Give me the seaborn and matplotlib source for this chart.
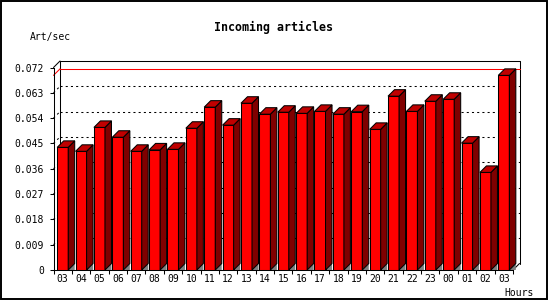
import numpy as np
import pandas as pd
import matplotlib
matplotlib.use("Agg")
import matplotlib.pyplot as plt
import seaborn as sns
from matplotlib.patches import Polygon, Rectangle

# ---- data ----
hours = ["03", "04", "05", "06", "07", "08", "09", "10", "11", "12", "13", "14",
         "15", "16", "17", "18", "19", "20", "21", "22", "23", "00", "01", "02", "03"]
rates = [0.0436, 0.0422, 0.0507, 0.0472, 0.0422, 0.0427, 0.0429, 0.0504, 0.0579,
         0.0515, 0.0593, 0.0554, 0.0561, 0.0557, 0.0564, 0.0554, 0.0563, 0.0500,
         0.0618, 0.0564, 0.0600, 0.0607, 0.0451, 0.0347, 0.0692]
y_ticks = [0, 0.009, 0.018, 0.027, 0.036, 0.045, 0.054, 0.063, 0.072]
y_tick_labels = ["0", "0.009", "0.018", "0.027", "0.036", "0.045", "0.054", "0.063", "0.072"]
title = "Incoming articles"
y_unit = "Art/sec"
x_unit = "Hours"

FRONT = "#ff0000"
SIDE = "#800000"
TOP = "#c00000"
FLOOR = "#808080"
LW = 0.75

sns.set_style("white")
plt.rcParams["font.family"] = ["DejaVu Sans Mono"]
plt.rcParams["text.color"] = "black"
plt.rcParams["axes.labelcolor"] = "black"

W, H = 550, 300
fig = plt.figure(figsize=(W / 100, H / 100), dpi=100)
ax_left, ax_right, ax_bottom, ax_top = 53.5, 513, 270, 67.5
ax = fig.add_axes([ax_left / W, (H - ax_bottom) / H,
                   (ax_right - ax_left) / W, (ax_bottom - ax_top) / H])

df = pd.DataFrame({"slot": range(len(rates)), "rate": rates})
sns.barplot(data=df, x="slot", y="rate", color=FRONT, saturation=1, width=0.6,
            edgecolor="black", linewidth=LW, ax=ax, zorder=3)

n = len(rates)
ymax = y_ticks[-1]
ax.set_xlim(-0.5, n - 0.5)
ax.set_ylim(0, ymax)

# 3D depth in data units
px_per_x = (ax_right - ax_left) / n
px_per_y = (ax_bottom - ax_top) / ymax
DX = 6.5 / px_per_x
DY = 6.5 / px_per_y

bars = list(ax.patches)
for p in bars:
    x0 = p.get_x()
    x1 = x0 + p.get_width()
    h = p.get_height()
    ax.add_patch(Polygon([(x1, 0), (x1 + DX, DY), (x1 + DX, 0)], closed=True,
                         fc=FLOOR, lw=0, zorder=2.5, clip_on=False))
    ax.add_patch(Polygon([(x1, 0), (x1 + DX, DY), (x1 + DX, h + DY), (x1, h)], closed=True,
                         fc=SIDE, ec="black", lw=LW, zorder=3, clip_on=False))
    ax.add_patch(Polygon([(x0, h), (x0 + DX, h + DY), (x1 + DX, h + DY), (x1, h)], closed=True,
                         fc=TOP, ec="black", lw=LW, zorder=3, clip_on=False))

xl, xr = -0.5, n - 0.5
# back wall dotted grid lines and connectors
for v in y_ticks[1:-1]:
    ax.plot([xl + DX, xr + DX], [v + DY, v + DY], color="black", lw=LW,
            ls=(0, (2, 3)), zorder=1, clip_on=False)
    ax.plot([xl, xl + DX], [v, v + DY], color="black", lw=LW,
            ls=(0, (2, 3)), zorder=1, clip_on=False)

# back wall frame
ax.plot([xl + DX, xl + DX, xr + DX, xr + DX], [DY, ymax + DY, ymax + DY, DY],
        color="black", lw=LW, zorder=1.5, clip_on=False)
ax.plot([xl, xl + DX], [ymax, ymax + DY], color="black", lw=LW, zorder=1.5, clip_on=False)
ax.plot([xr, xr + DX], [0, DY], color="black", lw=LW, zorder=1.5, clip_on=False)

# maximum line
vmax = max(rates)
ax.plot([xl + DX, xr + DX], [vmax + DY, vmax + DY], color="red", lw=LW, zorder=1.6, clip_on=False)
ax.plot([xl, xl + DX], [vmax, vmax + DY], color="red", lw=LW, zorder=1.6, clip_on=False)

# spines and ticks
for s in ["top", "right"]:
    ax.spines[s].set_visible(False)
for s in ["left", "bottom"]:
    ax.spines[s].set_color("black")
    ax.spines[s].set_linewidth(LW)

ax.set_xlabel("")
ax.set_ylabel("")
ax.set_yticks(y_ticks)
ax.set_yticklabels(y_tick_labels)
ax.set_xticks(np.arange(-0.5, n, 1.0))
ax.set_xticklabels([])
ax.set_xticks(np.arange(n), minor=True)
ax.set_xticklabels(hours, minor=True)
ax.tick_params(axis="y", left=True, direction="out", length=3.2, width=LW,
               pad=3.6, labelsize=7, colors="black")
ax.tick_params(axis="x", which="major", bottom=True, direction="out", length=3.2,
               width=LW, colors="black")
ax.tick_params(axis="x", which="minor", bottom=True, length=0, pad=3.0,
               labelsize=7, colors="black")

# texts
fig.text(273.5 / W, 1 - 27 / H, title, ha="center", va="center",
         fontsize=8.4, fontweight="bold", color="black")
fig.text(30 / W, 1 - 36.7 / H, y_unit, ha="left", va="center", fontsize=7, color="black")
fig.text(534 / W, 1 - 292.7 / H, x_unit, ha="right", va="center", fontsize=7, color="black")

# outer frame
fig.add_artist(Rectangle((1 / W, 1.5 / H), 546 / W, 297.5 / H, transform=fig.transFigure,
                         fill=False, ec="black", lw=1.4))

fig.savefig("out.png", dpi=100)
